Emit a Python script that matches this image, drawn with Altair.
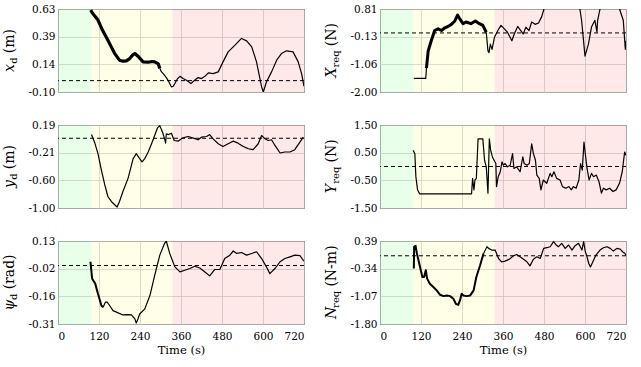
import altair as alt
import pandas as pd

FONT = "DejaVu Serif"

# ---------------- data ----------------
time_ticks = [0, 120, 240, 360, 480, 600, 720]
phase_start = [0, 97, 335]
phase_end = [97, 335, 720]
phase_color = ["#40ff50", "#ffff40", "#ff4040"]
ref_levels = [0.0, 0.0, 0.0, 0.0, 0.0, 0.0]

xd_t = [96, 100, 117, 130, 146, 156, 166, 180, 190, 200, 210, 218, 225, 234, 249, 264, 275, 283, 293, 298,
        303, 308, 312, 317, 322, 332, 337, 342, 350, 357, 366, 376, 389, 400, 410, 420, 430, 440, 454, 469,
        483, 498, 518, 537, 552, 567, 581, 590, 596, 601, 610, 625, 640, 654, 669, 688, 703, 713, 720]
xd_v = [0.621, 0.598, 0.533, 0.445, 0.356, 0.297, 0.238, 0.180, 0.171, 0.174, 0.194, 0.224, 0.238, 0.215,
        0.165, 0.162, 0.168, 0.165, 0.150, 0.106, 0.077, 0.062, 0.047, 0.027, 0.003, -0.056, -0.050, -0.026,
        0.018, 0.038, 0.018, 0.003, -0.026, 0.003, 0.027, 0.018, 0.038, 0.068, 0.062, 0.077, 0.165, 0.253,
        0.312, 0.371, 0.350, 0.297, 0.165, 0.032, -0.056, -0.100, -0.012, 0.077, 0.180, 0.238, 0.262, 0.253,
        0.165, 0.062, -0.050]

yd_t = [98, 107, 117, 127, 137, 146, 156, 166, 173, 180, 190, 205, 220, 229, 239, 246, 254, 264, 273, 283,
        291, 298, 306, 312, 315, 317, 324, 332, 340, 352, 366, 381, 396, 410, 420, 435, 444, 454, 469, 483,
        498, 513, 527, 542, 557, 571, 586, 596, 606, 615, 625, 635, 650, 664, 679, 693, 708, 718]
yd_v = [0.053, -0.056, -0.221, -0.457, -0.669, -0.835, -0.906, -0.953, -0.986, -0.906, -0.764, -0.575,
        -0.292, -0.221, -0.292, -0.339, -0.292, -0.197, -0.089, 0.039, 0.148, 0.181, 0.086, -0.008, -0.070,
        0.062, 0.053, 0.072, -0.032, -0.041, 0.006, 0.025, 0.001, -0.022, 0.015, 0.025, 0.053, -0.008,
        -0.079, -0.117, -0.079, -0.041, -0.070, -0.117, -0.150, -0.164, -0.079, 0.039, -0.008, -0.032,
        -0.022, -0.103, -0.211, -0.197, -0.197, -0.164, -0.056, 0.015]

psi_t = [95, 100, 109, 117, 127, 132, 139, 144, 151, 161, 176, 190, 205, 215, 225, 229, 234, 239, 254, 269,
         283, 298, 312, 317, 327, 342, 357, 371, 386, 400, 415, 430, 444, 459, 474, 488, 503, 513, 523, 537,
         552, 567, 581, 596, 610, 620, 635, 650, 664, 679, 693, 708, 720]
psi_v = [0.020, -0.070, -0.096, -0.150, -0.212, -0.221, -0.194, -0.194, -0.212, -0.239, -0.251, -0.262,
         -0.260, -0.262, -0.283, -0.305, -0.283, -0.257, -0.230, -0.159, -0.052, 0.055, 0.118, 0.130, 0.064,
         -0.007, -0.034, -0.025, -0.016, -0.004, -0.013, -0.034, -0.055, -0.021, -0.020, 0.037, 0.055, 0.077,
         0.064, 0.069, 0.055, 0.064, 0.073, 0.037, -0.007, -0.043, -0.016, 0.020, 0.037, 0.046, 0.055, 0.052,
         0.023]

Xreq_t = [99, 134, 136, 141, 150, 160, 170, 180, 190, 199, 209, 219, 227, 233, 243, 252, 266, 279, 291, 301,
          311, 316, 319, 323, 328, 335, 345, 354, 364, 373, 386, 393, 403, 412, 419, 427, 436, 444, 454, 464,
          473, 480, 490, 540, 580, 585, 590, 600, 610, 619, 629, 635, 637, 644, 655, 700, 702, 712, 718, 720]
Xreq_v = [-1.537, -1.537, -1.19, -0.612, -0.265, 0.081, 0.139, 0.081, 0.174, 0.220, 0.290, 0.405, 0.602,
          0.486, 0.313, 0.371, 0.313, 0.405, 0.313, 0.255, 0.024, -0.612, -0.670, -0.381, -0.555, -0.150,
          0.081, 0.255, 0.139, 0.024, -0.265, -0.034, 0.220, 0.081, -0.034, 0.197, 0.081, 0.371, 0.290,
          0.336, 0.544, 0.81, 1.0, 1.0, 0.95, 0.81, 0.428, -0.786, -0.381, 0.197, 0.428, 0.024, 0.428, 0.81,
          1.0, 1.0, 0.775, 0.428, -0.555, -0.265]

Yreq_t = [97, 102, 105, 110, 116, 268, 271, 275, 278, 282, 287, 301, 306, 311, 316, 320, 324, 329, 334, 339,
          341, 346, 352, 357, 361, 366, 373, 381, 388, 392, 400, 410, 418, 422, 430, 437, 444, 449, 455, 459,
          466, 471, 478, 488, 498, 503, 509, 517, 527, 534, 544, 553, 560, 566, 574, 582, 587, 592, 597, 602,
          606, 612, 619, 625, 633, 641, 648, 654, 662, 672, 682, 691, 701, 709, 716, 720]
Yreq_v = [0.583, 0.464, -0.369, -0.845, -0.988, -0.988, -0.429, -0.845, -0.488, -0.429, 1.0, 1.0, 0.226,
          -0.012, -0.964, 1.0, 0.583, 0.345, 0.226, 0.107, -0.726, -0.369, -0.190, 0.167, 0.048, 0.107,
          -0.012, 0.048, 0.464, -0.071, -0.012, -0.190, 0.345, 0.107, 0.048, 0.107, 0.821, 0.464, 0.226,
          -0.310, -0.429, -0.845, -0.488, -0.607, -0.250, -0.369, -0.190, -0.429, -0.488, -0.726, -0.786,
          -0.726, -0.845, -0.726, -0.786, -0.488, 0.107, -0.131, 0.881, 0.345, -0.071, -0.488, -0.250,
          -0.369, -0.310, -0.548, -0.964, -0.786, -0.845, -0.786, -0.905, -0.845, -0.607, -0.190, 0.524, 0.405]

Nreq_t = [99, 100, 104, 108, 116, 124, 129, 134, 138, 146, 156, 166, 176, 186, 196, 205, 215, 222, 229, 234,
          239, 244, 254, 264, 274, 282, 293, 303, 313, 318, 327, 337, 347, 356, 366, 379, 391, 400, 410, 420,
          430, 439, 449, 459, 469, 479, 488, 498, 508, 516, 522, 532, 542, 552, 562, 571, 581, 591, 596, 601,
          606, 611, 616, 623, 632, 644, 654, 664, 674, 683, 693, 703, 710, 717, 720]
Nreq_v = [-0.337, 0.239, 0.266, 0.062, -0.248, -0.559, -0.559, -0.381, -0.603, -0.736, -0.825, -0.913,
          -1.029, -1.064, -1.046, -1.064, -1.135, -1.268, -1.295, -1.179, -1.002, -1.046, -1.064, -1.046,
          -0.913, -0.559, -0.248, 0.062, 0.239, 0.195, 0.151, 0.151, -0.071, -0.160, -0.142, -0.089, 0.000,
          0.035, -0.027, -0.089, -0.160, -0.266, -0.089, -0.027, -0.071, 0.195, 0.213, 0.239, 0.372, 0.284,
          0.239, 0.328, 0.195, 0.284, 0.151, 0.266, 0.328, 0.151, 0.372, 0.106, -0.027, -0.204, -0.293,
          -0.160, 0.018, 0.151, 0.213, 0.239, 0.195, 0.124, 0.195, 0.177, 0.106, 0.062, 0.000]

xd_ticks = [-0.10, 0.14333, 0.38667, 0.63]
yd_ticks = [-1.00, -0.60333, -0.20667, 0.19]
psi_ticks = [-0.31, -0.16333, -0.01667, 0.13]
Xreq_ticks = [-2.00, -1.06333, -0.12667, 0.81]
Yreq_ticks = [-1.50, -0.50, 0.50, 1.50]
Nreq_ticks = [-1.80, -1.07, -0.34, 0.39]

# ---------------- layout / style ----------------
W, H = 246, 83
MAIN, SUB = 14, 10
TITLE_X = -44
# approximate DejaVu Serif advance widths (em)
EM_IT = {"x": 0.592, "y": 0.592, "ψ": 0.76, "X": 0.722, "Y": 0.667, "N": 0.80}
EM = {"d": 0.640, "r": 0.478, "e": 0.592, "q": 0.640, "(": 0.391, ")": 0.391, "m": 0.948,
      "a": 0.596, "-": 0.338, "N": 0.838, " ": 0.318}


def text_w(s, size, italic=False):
    tab = EM_IT if italic else EM
    return sum(tab.get(c, 0.6) for c in s) * size


phase_df = pd.DataFrame({"start": phase_start, "end": phase_end, "color": phase_color})
dummy = pd.DataFrame({"k": [0]})


def panel(t, v, dom, ticks, ref, sym, sub, unit, thick, bottom):
    ts, te, tw = thick
    rows = []
    for ti, vi in zip(t, v):
        if ti <= ts:
            rows.append((ti, vi, "pre", 1.2))
        if ts <= ti <= te:
            rows.append((ti, vi, "thick", tw))
        if ti >= te:
            rows.append((ti, vi, "post", 1.2))
    df = pd.DataFrame(rows, columns=["t", "v", "seg", "w"])

    xs = alt.Scale(domain=[0, 720], nice=False, zero=False)
    ys = alt.Scale(domain=dom, nice=False, zero=False)
    xaxis = alt.Axis(values=time_ticks, grid=True, labels=bottom, title="Time (s)" if bottom else None,
                     labelPadding=7, titlePadding=3, format="d")
    yaxis = alt.Axis(values=ticks, grid=True, title=None, labelPadding=3,
                     labelExpr="replace(format(datum.value, '.2f'), '\u2212', '-')")

    shade = alt.Chart(phase_df).mark_rect(opacity=0.12).encode(
        x=alt.X("start:Q", scale=xs, axis=xaxis), x2="end:Q",
        color=alt.Color("color:N", scale=None))
    rule = alt.Chart(pd.DataFrame({"ref": [ref]})).mark_rule(
        color="black", strokeDash=[4, 3], strokeWidth=1).encode(
        y=alt.Y("ref:Q", scale=ys, axis=yaxis))
    line = alt.Chart(df).mark_line(color="black", clip=True, strokeJoin="round").encode(
        x=alt.X("t:Q", scale=xs, axis=xaxis),
        y=alt.Y("v:Q", scale=ys, axis=yaxis),
        detail="seg:N",
        strokeWidth=alt.StrokeWidth("w:Q", scale=None),
        order="t:Q")

    pieces = [(sym, "italic", MAIN, 0, 0.0), (sub, "normal", SUB, 3, 0.0), (unit, "normal", MAIN, 0, 0.3 * MAIN)]
    widths = [text_w(p[0], p[2], p[1] == "italic") + p[4] for p in pieces]
    cur = H / 2 + sum(widths) / 2
    texts = []
    for (txt, style, size, dx, gap), w in zip(pieces, widths):
        texts.append(alt.Chart(dummy).mark_text(
            text=txt, font=FONT, fontSize=size, fontStyle=style, angle=270,
            align="left", baseline="alphabetic", color="black").encode(
            x=alt.value(TITLE_X + dx), y=alt.value(cur - gap)))
        cur -= w
    return alt.layer(shade, rule, line, *texts).properties(width=W, height=H)


p_xd = panel(xd_t, xd_v, [-0.10, 0.63], xd_ticks, ref_levels[0], "x", "d", "(m)", (96, 298, 3.2), False)
p_yd = panel(yd_t, yd_v, [-1.00, 0.19], yd_ticks, ref_levels[1], "y", "d", "(m)", (0, 0, 1.4), False)
p_psi = panel(psi_t, psi_v, [-0.31, 0.13], psi_ticks, ref_levels[2], "ψ", "d", "(rad)", (95, 132, 2.0), True)
p_X = panel(Xreq_t, Xreq_v, [-2.00, 0.81], Xreq_ticks, ref_levels[3], "X", "req", "(N)", (136, 311, 3.0), False)
p_Y = panel(Yreq_t, Yreq_v, [-1.50, 1.50], Yreq_ticks, ref_levels[4], "Y", "req", "(N)", (0, 0, 1.4), False)
p_N = panel(Nreq_t, Nreq_v, [-1.80, 0.39], Nreq_ticks, ref_levels[5], "N", "req", "(N-m)", (99, 303, 2.0), True)

chart = alt.concat(p_xd, p_X, p_yd, p_Y, p_psi, p_N, columns=2,
                   spacing={"row": 33, "column": 76}, bounds="flush").configure_view(
    stroke="#1a1a1a", strokeWidth=1).configure_axis(
    labelFont=FONT, labelFontSize=10.5, labelColor="black",
    titleFont=FONT, titleFontSize=11.5, titleColor="black", titleFontWeight="normal",
    gridColor="#cfcfcf", gridWidth=0.8, domain=False, ticks=False).properties(
    padding={"left": 2, "top": 3, "right": 0, "bottom": 2})

chart.save("out.html", embed_options={"renderer": "svg", "actions": False})
